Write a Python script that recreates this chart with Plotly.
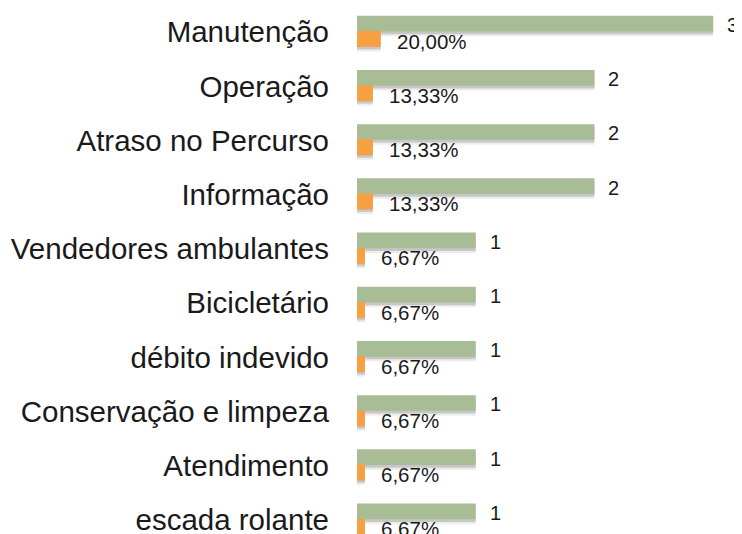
import plotly.graph_objects as go

categories = ["Manutenção", "Operação", "Atraso no Percurso", "Informação",
              "Vendedores ambulantes", "Bicicletário", "débito indevido",
              "Conservação e limpeza", "Atendimento", "escada rolante"]
counts = [3, 2, 2, 2, 1, 1, 1, 1, 1, 1]
percents = [20.00, 13.33, 13.33, 13.33, 6.67, 6.67, 6.67, 6.67, 6.67, 6.67]
count_labels = ["3", "2", "2", "2", "1", "1", "1", "1", "1", "1"]
percent_labels = ["20,00%", "13,33%", "13,33%", "13,33%", "6,67%", "6,67%",
                  "6,67%", "6,67%", "6,67%", "6.67%"]

GREEN = "#A8BC96"
ORANGE = "#F6A041"
SHADOW = "rgba(0,0,0,0.16)"
SHADOW2 = "rgba(0,0,0,0.07)"
FONT = "Liberation Sans"
TXT = "#1a1a1a"

pct_frac = [p / 100 for p in percents]

fig = go.Figure()
# soft drop shadows
for vals, off in ((counts, -0.30), (pct_frac, -0.02)):
    fig.add_trace(go.Bar(y=categories, x=vals, orientation="h",
                         offset=off + 0.09, width=0.29,
                         marker=dict(color=SHADOW2, line=dict(width=0)),
                         hoverinfo="skip"))
    fig.add_trace(go.Bar(y=categories, x=vals, orientation="h",
                         offset=off + 0.05, width=0.29,
                         marker=dict(color=SHADOW, line=dict(width=0)),
                         hoverinfo="skip"))
fig.add_trace(go.Bar(y=categories, x=counts, orientation="h",
                     offset=-0.30, width=0.29,
                     marker=dict(color=GREEN, line=dict(width=0)),
                     name="Quantidade", hoverinfo="skip"))
fig.add_trace(go.Bar(y=categories, x=pct_frac, orientation="h",
                     offset=-0.02, width=0.295,
                     marker=dict(color=ORANGE, line=dict(width=0)),
                     name="%", hoverinfo="skip"))

annotations = []
for c, v, t in zip(categories, counts, count_labels):
    annotations.append(dict(x=v, y=c, xref="x", yref="y", text=t,
                            showarrow=False, xanchor="left", yanchor="middle",
                            xshift=12, yshift=7,
                            font=dict(family=FONT, size=20, color=TXT)))
for c, v, t in zip(categories, pct_frac, percent_labels):
    annotations.append(dict(x=v, y=c, xref="x", yref="y", text=t,
                            showarrow=False, xanchor="left", yanchor="middle",
                            xshift=14, yshift=-9,
                            font=dict(family=FONT, size=20.5, color=TXT)))

fig.update_layout(
    width=734, height=526,
    margin=dict(l=349, r=0, t=0, b=0),
    paper_bgcolor="white", plot_bgcolor="white",
    barmode="overlay",
    showlegend=False,
    annotations=annotations,
    xaxis=dict(range=[0, 3.243], visible=False, fixedrange=True),
    yaxis=dict(range=[9.262, -0.443], type="category", automargin=False,
               showgrid=False, zeroline=False, showline=False,
               ticks="", ticklabelstandoff=27,
               tickfont=dict(family=FONT, size=29.5, color=TXT)),
)

fig.write_html("out.html")
